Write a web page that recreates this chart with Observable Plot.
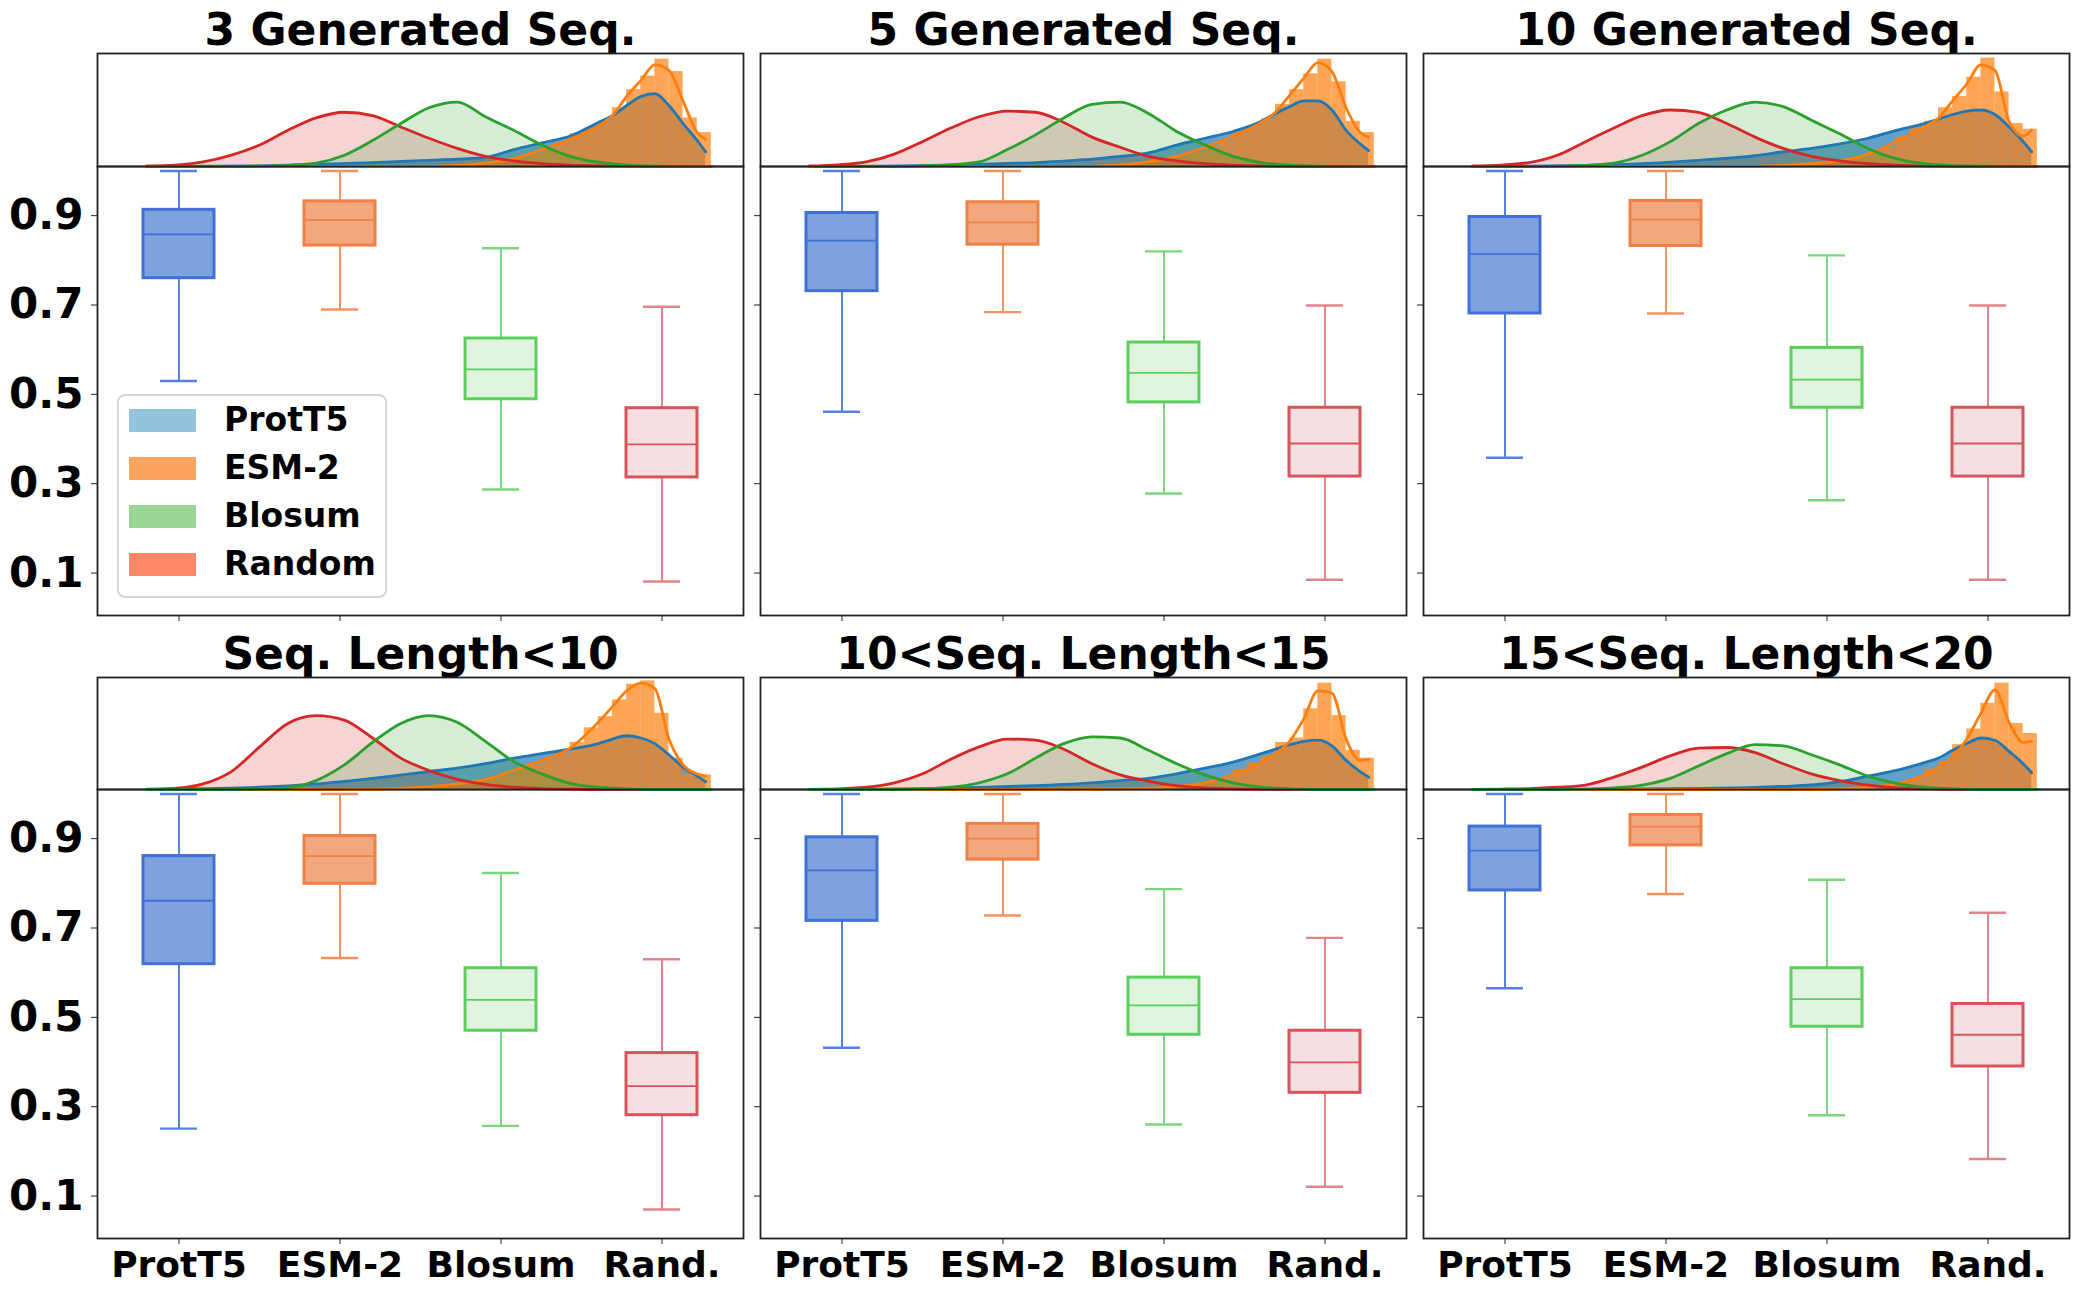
<!DOCTYPE html>
<html>
<head>
<meta charset="utf-8">
<script src="https://cdn.jsdelivr.net/npm/d3@7"></script>
<script src="https://cdn.jsdelivr.net/npm/@observablehq/plot@0.6"></script>
<style>
  body { margin: 0; background: #fff; font-family: "DejaVu Sans", sans-serif; }
  #root { position: relative; width: 2079px; height: 1295px; overflow: hidden; background: #fff; }
  .holder { position: absolute; }
  .holder svg { max-width: none !important; display: block; }
  .title { position: absolute; width: 647px; text-align: center; font-weight: bold; font-size: 44px; line-height: 44px; color: #000; white-space: nowrap; }
  .legend { position: absolute; left: 117px; top: 394px; width: 266px; height: 200px; border: 2px solid #d6d6d6; border-radius: 8px; background: rgba(255,255,255,0.85); z-index: 10; }
  .legend .row { position: absolute; left: 10px; height: 23px; }
  .legend .sw { position: absolute; left: 0; top: 0; width: 67px; height: 23px; }
  .legend .lb { position: absolute; left: 95px; top: -6px; font-weight: bold; font-size: 33px; line-height: 34px; white-space: nowrap; color: #000; }
</style>
</head>
<body>
<div id="root"></div>
<script>
// ---------- data ----------
const categories = ["ProtT5", "ESM-2", "Blosum", "Rand."];
const legendLabels = ["ProtT5", "ESM-2", "Blosum", "Random"];
const panelTitles = ["3 Generated Seq.", "5 Generated Seq.", "10 Generated Seq.",
                     "Seq. Length<10", "10<Seq. Length<15", "15<Seq. Length<20"];
const yTicks = [0.1, 0.3, 0.5, 0.7, 0.9];

// box statistics per panel: [ProtT5, ESM-2, Blosum, Random]
const whiskerLow  = [[0.530,0.690,0.287,0.081],[0.461,0.684,0.278,0.085],[0.358,0.681,0.263,0.085],
                     [0.251,0.633,0.257,0.070],[0.432,0.728,0.260,0.121],[0.565,0.776,0.281,0.183]];
const quartile1   = [[0.760,0.833,0.489,0.314],[0.731,0.835,0.482,0.316],[0.681,0.832,0.470,0.316],
                     [0.619,0.799,0.470,0.281],[0.716,0.853,0.461,0.331],[0.784,0.885,0.479,0.390]];
const medians     = [[0.858,0.890,0.556,0.388],[0.844,0.885,0.548,0.390],[0.814,0.891,0.533,0.390],
                     [0.761,0.861,0.539,0.346],[0.829,0.900,0.527,0.399],[0.873,0.927,0.541,0.461]];
const quartile3   = [[0.913,0.932,0.625,0.469],[0.906,0.930,0.616,0.470],[0.897,0.933,0.604,0.470],
                     [0.861,0.906,0.610,0.420],[0.903,0.933,0.589,0.470],[0.927,0.953,0.610,0.530]];
const whiskerHigh = [[1.000,1.000,0.827,0.696],[1.000,1.000,0.820,0.699],[1.000,1.000,0.811,0.699],
                     [1.000,1.000,0.823,0.630],[1.000,1.000,0.787,0.678],[1.000,1.000,0.808,0.734]];

// density strip (relative height of strip) sampled at these x positions
const kdeGridA = [0,0.05,0.1,0.15,0.2,0.25,0.3,0.35,0.4,0.45,0.5,0.55,0.6,0.65,0.7,0.75,0.8,0.85,0.9,0.95,1.0];
const kdeGridB = [0,0.1,0.2,0.3,0.4,0.5,0.55,0.6,0.65,0.7,0.75,0.8,0.825,0.85,0.875,0.9,0.925,0.95,0.975,0.99];
const histBinStart = [0.5,0.525,0.55,0.575,0.6,0.625,0.65,0.675,0.7,0.725,0.75,0.775,0.8,0.825,0.85,0.875,0.9,0.925,0.95,0.975];
const histBinWidth = 0.025;

const randomKde = [
  [0.005,0.012,0.04,0.10,0.19,0.32,0.43,0.48,0.45,0.35,0.25,0.16,0.09,0.05,0.025,0.012,0.006,0.003,0.001,0,0],
  [0.005,0.015,0.04,0.11,0.22,0.34,0.44,0.49,0.48,0.39,0.26,0.17,0.09,0.05,0.025,0.012,0.005,0.002,0,0,0],
  [0.005,0.012,0.035,0.10,0.22,0.34,0.45,0.50,0.48,0.38,0.26,0.16,0.09,0.05,0.025,0.012,0.005,0.002,0,0,0],
  [0.003,0.01,0.05,0.16,0.38,0.59,0.66,0.62,0.46,0.28,0.17,0.09,0.045,0.02,0.008,0.003,0,0,0,0,0],
  [0.002,0.006,0.02,0.06,0.14,0.27,0.38,0.45,0.44,0.36,0.23,0.13,0.075,0.035,0.015,0.006,0.002,0,0,0,0],
  [0.002,0.004,0.008,0.02,0.04,0.11,0.20,0.30,0.37,0.375,0.33,0.23,0.14,0.08,0.04,0.015,0.005,0,0,0,0]
];
const blosumKde = [
  [0,0,0,0,0.003,0.01,0.03,0.10,0.23,0.38,0.52,0.57,0.44,0.32,0.19,0.09,0.038,0.012,0.003,0,0],
  [0,0,0,0,0.005,0.015,0.04,0.15,0.28,0.43,0.55,0.57,0.47,0.31,0.19,0.09,0.035,0.012,0.003,0,0],
  [0,0,0,0.003,0.01,0.03,0.10,0.22,0.38,0.50,0.57,0.53,0.41,0.29,0.16,0.07,0.025,0.008,0.002,0,0],
  [0,0,0,0,0.005,0.015,0.08,0.22,0.42,0.59,0.66,0.60,0.43,0.25,0.14,0.055,0.02,0.006,0,0,0],
  [0,0,0,0,0.005,0.02,0.06,0.14,0.28,0.41,0.47,0.46,0.35,0.23,0.13,0.06,0.02,0.007,0,0,0],
  [0,0,0,0,0.005,0.015,0.04,0.10,0.21,0.32,0.40,0.39,0.31,0.22,0.12,0.055,0.02,0.006,0,0,0]
];
const prott5Kde = [
  [0,0.002,0.006,0.018,0.035,0.055,0.065,0.08,0.15,0.21,0.27,0.39,0.45,0.54,0.62,0.645,0.54,0.38,0.23,0.13],
  [0,0.003,0.008,0.02,0.035,0.065,0.09,0.12,0.19,0.25,0.31,0.40,0.47,0.53,0.58,0.58,0.50,0.32,0.20,0.14],
  [0,0.003,0.01,0.025,0.055,0.095,0.13,0.16,0.20,0.25,0.32,0.38,0.42,0.46,0.49,0.50,0.46,0.35,0.22,0.13],
  [0,0.008,0.02,0.05,0.10,0.16,0.19,0.23,0.28,0.32,0.36,0.41,0.45,0.48,0.46,0.41,0.31,0.20,0.12,0.07],
  [0,0.003,0.008,0.018,0.035,0.06,0.08,0.10,0.14,0.19,0.245,0.32,0.36,0.40,0.43,0.44,0.39,0.26,0.16,0.11],
  [0,0,0.002,0.005,0.01,0.018,0.028,0.04,0.07,0.12,0.17,0.24,0.28,0.35,0.41,0.46,0.44,0.34,0.23,0.15]
];
const esm2Kde = [
  [0,0,0,0,0,0,0.01,0.03,0.07,0.15,0.24,0.36,0.45,0.62,0.76,0.90,0.85,0.58,0.30,0.24],
  [0,0,0,0,0,0,0.015,0.04,0.09,0.17,0.27,0.39,0.48,0.63,0.78,0.92,0.84,0.52,0.30,0.26],
  [0,0,0,0,0,0,0.01,0.025,0.05,0.11,0.22,0.35,0.43,0.58,0.73,0.90,0.85,0.40,0.27,0.32],
  [0,0,0,0,0.002,0.025,0.05,0.09,0.17,0.26,0.37,0.60,0.74,0.88,0.95,0.90,0.45,0.22,0.14,0.12],
  [0,0,0,0,0,0.003,0.006,0.012,0.028,0.06,0.13,0.24,0.32,0.43,0.63,0.88,0.86,0.45,0.26,0.27],
  [0,0,0,0,0,0,0,0,0.005,0.02,0.05,0.13,0.20,0.29,0.45,0.68,0.89,0.60,0.42,0.43]
];
const esm2Hist = [
  [0.002,0.005,0.012,0.022,0.035,0.055,0.08,0.115,0.16,0.21, 0.29,0.34,0.40,0.52,0.68,0.80,0.95,0.84,0.43,0.30],
  [0.003,0.008,0.017,0.03,0.045,0.065,0.095,0.13,0.18,0.23, 0.30,0.36,0.42,0.55,0.68,0.82,0.95,0.75,0.40,0.30],
  [0.002,0.005,0.01,0.018,0.027,0.04,0.055,0.08,0.12,0.17, 0.26,0.34,0.40,0.52,0.62,0.79,0.96,0.66,0.38,0.33],
  [0.03,0.04,0.055,0.07,0.095,0.13,0.18,0.22,0.27,0.32, 0.42,0.55,0.65,0.80,0.94,0.97,0.68,0.28,0.14,0.13],
  [0.003,0.004,0.006,0.009,0.014,0.02,0.03,0.045,0.065,0.095, 0.18,0.24,0.30,0.42,0.46,0.72,0.95,0.66,0.35,0.28],
  [0,0,0,0,0,0.002,0.006,0.01,0.02,0.035, 0.06,0.10,0.18,0.25,0.40,0.54,0.77,0.95,0.59,0.50]
];

// ---------- styles ----------
const boxFill    = ["#7ea1df", "#f2a77f", "#e0f4df", "#f5dfe0"];
const boxEdge    = ["#4270d6", "#ee8143", "#5bcf5b", "#d8545c"];
const whiskerCol = ["#5582e2", "#f49260", "#7cd67c", "#e2858a"];
const legendCol  = ["#93c4de", "#fca35e", "#99d595", "#fc8a6a"];
const kdeCol = { prott5: "#1f77b4", esm2: "#ff7f0e", blosum: "#2ca02c", random: "#d62728" };

const colLeft = [97, 760, 1423];
const innerW = 646;
const rowStripTop = [53, 677];
const rowBoxTop = [166, 789];
const stripH = [113, 112];
const boxH = 449;
const ML = 97, MT = 2, MB = 60, MR = 3;

const root = document.getElementById("root");

function place(el, left, top, w, h, z) {
  const d = document.createElement("div");
  d.className = "holder";
  d.style.left = left + "px"; d.style.top = top + "px";
  d.style.width = w + "px"; d.style.height = h + "px";
  d.style.zIndex = z;
  d.appendChild(el);
  root.appendChild(d);
}

const svgStyle = { background: "transparent", overflow: "visible", fontFamily: "DejaVu Sans, sans-serif", color: "#000" };

function makeStrip(p, h) {
  const red = kdeGridA.map((x, j) => ({ x, y: randomKde[p][j] }));
  const green = kdeGridA.map((x, j) => ({ x, y: blosumKde[p][j] }));
  const blue = kdeGridB.map((x, j) => ({ x, y: prott5Kde[p][j] }));
  const orange = kdeGridB.map((x, j) => ({ x, y: esm2Kde[p][j] }));
  const bars = histBinStart.map((x, j) => ({ x1: x, x2: x + histBinWidth, y: esm2Hist[p][j] }));
  const cv = "monotone-x";
  return Plot.plot({
    width: innerW + 4, height: h + 2,
    marginLeft: 2, marginRight: 2, marginTop: 2, marginBottom: 0,
    style: svgStyle,
    x: { domain: [-0.087, 1.057], axis: null },
    y: { domain: [0, 1], axis: null },
    marks: [
      Plot.areaY(blue, { x: "x", y: "y", fill: kdeCol.prott5, fillOpacity: 0.7, curve: cv }),
      Plot.rectY(bars, { x1: "x1", x2: "x2", y: "y", fill: kdeCol.esm2, fillOpacity: 0.7, inset: 0 }),
      Plot.areaY(red, { x: "x", y: "y", fill: kdeCol.random, fillOpacity: 0.2, curve: cv }),
      Plot.areaY(green, { x: "x", y: "y", fill: kdeCol.blosum, fillOpacity: 0.2, curve: cv }),
      Plot.line(blue, { x: "x", y: "y", stroke: kdeCol.prott5, strokeWidth: 2.8, curve: cv }),
      Plot.line(orange, { x: "x", y: "y", stroke: kdeCol.esm2, strokeWidth: 2.8, curve: cv }),
      Plot.line(red, { x: "x", y: "y", stroke: kdeCol.random, strokeWidth: 2.8, curve: cv }),
      Plot.line(green, { x: "x", y: "y", stroke: kdeCol.blosum, strokeWidth: 2.8, curve: cv }),
      Plot.frame({ stroke: "#222", strokeWidth: 1.8 })
    ]
  });
}

function makeBox(p, showY, showX) {
  const data = categories.map((c, k) => ({
    cat: c, lo: whiskerLow[p][k], q1: quartile1[p][k], med: medians[p][k], q3: quartile3[p][k], hi: whiskerHigh[p][k]
  }));
  const marks = [];
  data.forEach((d, k) => {
    const one = [d];
    marks.push(
      Plot.ruleX(one, { x: "cat", y1: "lo", y2: "q1", stroke: whiskerCol[k], strokeWidth: 2 }),
      Plot.ruleX(one, { x: "cat", y1: "q3", y2: "hi", stroke: whiskerCol[k], strokeWidth: 2 }),
      Plot.tickY(one, { x: "cat", y: "lo", stroke: whiskerCol[k], strokeWidth: 2.4, inset: 62 }),
      Plot.tickY(one, { x: "cat", y: "hi", stroke: whiskerCol[k], strokeWidth: 2.4, inset: 62 }),
      Plot.barY(one, { x: "cat", y1: "q1", y2: "q3", fill: boxFill[k], stroke: boxEdge[k], strokeWidth: 3, insetLeft: 45, insetRight: 45 }),
      Plot.tickY(one, { x: "cat", y: "med", stroke: boxEdge[k], strokeWidth: 1.8, inset: 45 })
    );
  });
  marks.push(
    Plot.axisY(yTicks, { tickSize: 6, tickPadding: 8, fontSize: 42, fontWeight: "bold", fill: "#000", stroke: "#222",
      tickFormat: showY ? (v => v.toFixed(1)) : (() => ""), label: null }),
    Plot.axisX({ tickSize: 6, tickPadding: 7, fontSize: 36, fontWeight: "bold", fill: "#000", stroke: "#222",
      tickFormat: showX ? (v => v) : (() => ""), label: null }),
    Plot.frame({ stroke: "#222", strokeWidth: 1.8 })
  );
  return Plot.plot({
    width: ML + innerW + MR, height: boxH + MT + MB,
    marginLeft: ML, marginRight: MR, marginTop: MT, marginBottom: MB,
    style: svgStyle,
    x: { domain: categories, padding: 0, axis: null },
    y: { domain: [0.005, 1.01], axis: null },
    marks
  });
}

for (let p = 0; p < 6; p++) {
  const r = Math.floor(p / 3), c = p % 3;
  const L = colLeft[c];
  // title
  const t = document.createElement("div");
  t.className = "title";
  t.textContent = panelTitles[p];
  t.style.left = L + "px";
  t.style.top = (r === 0 ? 8 : 632) + "px";
  root.appendChild(t);
  // box plot
  place(makeBox(p, c === 0, r === 1), L - ML, rowBoxTop[r] - MT, ML + innerW + MR, boxH + MT + MB, 1);
  // density strip
  place(makeStrip(p, stripH[r]), L - 2, rowStripTop[r] - 2, innerW + 4, stripH[r] + 2, 2);
}

// legend
const lg = document.createElement("div");
lg.className = "legend";
legendLabels.forEach((name, k) => {
  const row = document.createElement("div");
  row.className = "row";
  row.style.top = (13 + k * 48) + "px";
  const sw = document.createElement("div");
  sw.className = "sw"; sw.style.background = legendCol[k];
  const lb = document.createElement("div");
  lb.className = "lb"; lb.textContent = name;
  row.appendChild(sw); row.appendChild(lb);
  lg.appendChild(row);
});
root.appendChild(lg);
</script>
</body>
</html>
